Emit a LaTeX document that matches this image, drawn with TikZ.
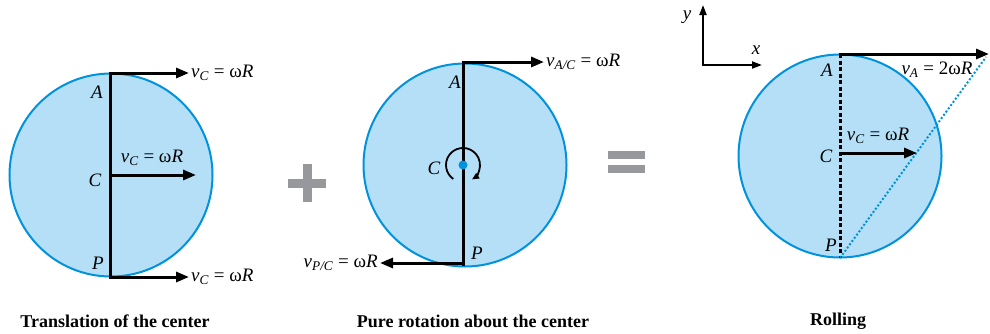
\documentclass[tikz,border=0pt]{standalone}
\usepackage{fontspec}
\setmainfont{Liberation Serif}
\usepackage{tikz}
\usetikzlibrary{arrows.meta, positioning, calc}
\definecolor{wheelblue}{RGB}{0,146,221}
\definecolor{wheelfill}{RGB}{180,223,246}
\definecolor{opgray}{RGB}{150,152,156}
\tikzstyle{wheel} = [circle, draw=wheelblue, fill=wheelfill, line width=2pt, minimum size=203pt, inner sep=0pt]
\tikzstyle{vec} = [line width=3pt, -{Triangle[length=13pt,width=10pt]}]
\tikzstyle{spoke} = [line width=3pt]
\tikzstyle{pt} = [font=\fontsize{19}{22}\selectfont\itshape, inner sep=1pt]
\tikzstyle{vlabel} = [font=\fontsize{19}{22}\selectfont, inner sep=1pt]
\tikzstyle{caption} = [font=\fontsize{18}{22}\selectfont\bfseries]
\tikzstyle{opsign} = [line width=9pt, opgray]
\newcommand{\vel}[2]{\textit{v}\textsubscript{\textit{#1}} = #2}

\begin{document}
\begin{tikzpicture}[x=1pt, y=-1pt]
\useasboundingbox (0,0) rectangle (990,333);

% Translation of the center
\node (wheelT) [wheel] at (111,175) {};
\coordinate (AT) at (110,73);
\coordinate (CT) at (110,175);
\coordinate (PT) at (110,277);
\coordinate (vAT) at (189,73);
\coordinate (vCT) at (196,175);
\coordinate (vPT) at (189,277);
\draw [spoke] (AT) -- (PT);
\draw [vec] ([xshift=-1.5pt]AT) -- (vAT);
\draw [vec] ([xshift=1pt]CT) -- (vCT);
\draw [vec] ([xshift=-1.5pt]PT) -- (vPT);
\node (labAT) [pt] at (97,92) {A};
\node (labCT) [pt] at (95,180) {C};
\node (labPT) [pt] at (98,263) {P};
\node (velAT) [vlabel, right=1pt of vAT] {\vel{C}{ω\textit{R}}};
\node (velCT) [vlabel] at (152,158) {\vel{C}{ω\textit{R}}};
\node (velPT) [vlabel, right=1pt of vPT] {\vel{C}{ω\textit{R}}};

% plus sign
\coordinate (plusL) at (288,183);
\coordinate (plusR) at (326,183);
\coordinate (plusT) at (307,164);
\coordinate (plusB) at (307,202);
\draw [opsign] (plusL) -- (plusR);
\draw [opsign] (plusT) -- (plusB);

% Pure rotation about the center
\node (wheelR) [wheel] at (465,165) {};
\coordinate (AR) at (463,62);
\coordinate (CR) at (463,165);
\coordinate (PR) at (463,266);
\coordinate (PRv) at (463,263);
\coordinate (vAR) at (544,62);
\coordinate (vPR) at (380,263);
\draw [spoke] (AR) -- (PR);
\draw [vec] ([xshift=-1.5pt]AR) -- (vAR);
\draw [vec] ([xshift=1.5pt]PRv) -- (vPR);
\fill [wheelblue] (CR) circle (4.5);
\draw [line width=1.8pt, -{Triangle[length=7pt,width=6pt]}] ([shift={(125:17)}]CR) arc[start angle=125, end angle=418, radius=17];
\node (labAR) [pt] at (455,82) {A};
\node (labCR) [pt] at (434,168) {C};
\node (labPR) [pt] at (477,253) {P};
\node (velAR) [vlabel, right=1pt of vAR] {\vel{A/C}{ω\textit{R}}};
\node (velPR) [vlabel, left=1pt of vPR] {\vel{P/C}{ω\textit{R}}};

% equals sign
\coordinate (eqTL) at (608,155);
\coordinate (eqTR) at (645,155);
\coordinate (eqBL) at (608,169);
\coordinate (eqBR) at (645,169);
\draw [opsign, line width=8pt] (eqTL) -- (eqTR);
\draw [opsign, line width=8pt] (eqBL) -- (eqBR);

% Rolling
\coordinate (O) at (703,65);
\coordinate (yTip) at (703,5);
\coordinate (xTip) at (762,65);
\draw [line width=2pt, -{Triangle[length=10pt,width=7pt]}] (O) -- (yTip);
\draw [line width=2pt, -{Triangle[length=10pt,width=7pt]}] ([xshift=-1pt]O) -- (xTip);
\node (labY) [pt] at (687,17) {y};
\node (labX) [pt] at (756,50) {x};

\node (wheelRo) [wheel] at (840,156) {};
\coordinate (ARo) at (840,54);
\coordinate (CRo) at (840,153);
\coordinate (PRo) at (840,258);
\coordinate (vARo) at (989,54);
\coordinate (vCRo) at (917,153);
\coordinate (dotEnd) at (986,57);
\draw [line width=3pt, dash pattern=on 4pt off 2.5pt] (ARo) -- (PRo);
\draw [wheelblue, line width=2pt, dash pattern=on 2pt off 2pt] (PRo) -- (dotEnd);
\draw [vec] ([xshift=-1.5pt]ARo) -- (vARo);
\draw [vec] ([xshift=1.5pt]CRo) -- (vCRo);
\node (labARo) [pt] at (827,70) {A};
\node (labCRo) [pt] at (826,156) {C};
\node (labPRo) [pt] at (831,245) {P};
\node (velARo) [vlabel] at (937,70) {\vel{A}{2ω\textit{R}}};
\node (velCRo) [vlabel] at (878,136) {\vel{C}{ω\textit{R}}};

% captions
\node (capT) [caption] at (115,321) {Translation of the center};
\node (capR) [caption] at (473,321) {Pure rotation about the center};
\node (capRo) [caption] at (838,321) {Rolling};

\end{tikzpicture}
\end{document}
